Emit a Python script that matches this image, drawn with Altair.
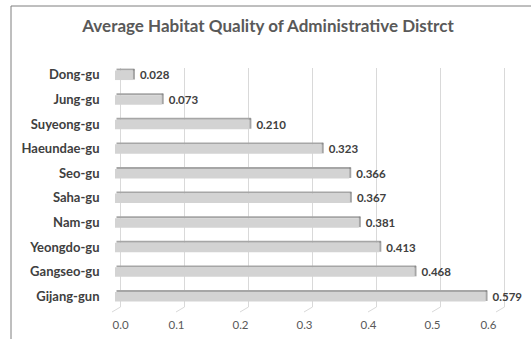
import altair as alt
import pandas as pd

districts = ["Dong-gu", "Jung-gu", "Suyeong-gu", "Haeundae-gu", "Seo-gu",
             "Saha-gu", "Nam-gu", "Yeongdo-gu", "Gangseo-gu", "Gijang-gun"]
values = [0.028, 0.073, 0.210, 0.323, 0.366, 0.367, 0.381, 0.413, 0.468, 0.579]
ticks = [0.0, 0.1, 0.2, 0.3, 0.4, 0.5, 0.6]
title_text = "Average Habitat Quality of Administrative Distrct"

df = pd.DataFrame({"district": districts, "value": values})
tdf = pd.DataFrame({"t": ticks})
FONT = "Lato"

xs = alt.Scale(domain=[0, 0.6], nice=False, zero=True)
ys = alt.Scale(domain=districts, paddingInner=0, paddingOuter=0)

x_axis = alt.Axis(values=ticks, format=".1f", grid=False, ticks=False, domain=False,
                  labelOffset=-3, labelPadding=10, labelFont=FONT, labelFontSize=11.5,
                  labelColor="#595959", title=None)
y_axis = alt.Axis(ticks=False, domain=False, grid=False, labelPadding=16,
                  labelFont=FONT, labelFontSize=13, labelFontWeight="bold",
                  labelColor="#404040", title=None)

grid = alt.Chart(tdf).mark_rule(color="#d9d9d9", strokeWidth=1, xOffset=5.5).encode(
    x=alt.X("t:Q", scale=xs, axis=x_axis),
    y=alt.value(5), y2=alt.value(244))
diag = alt.Chart(tdf).mark_rule(color="#d9d9d9", strokeWidth=1, xOffset=5.5, x2Offset=-3).encode(
    x=alt.X("t:Q", scale=xs), x2="t:Q",
    y=alt.value(244), y2=alt.value(249))

top_face = alt.Chart(df).mark_bar(color="#a6a6a6", size=2, yOffset=-5.7, xOffset=1.5, x2Offset=1).encode(
    y=alt.Y("district:N", scale=ys, sort=districts, axis=y_axis),
    x=alt.X("value:Q", scale=xs))
front = alt.Chart(df).mark_bar(color="#d3d3d3", size=9.5).encode(
    y=alt.Y("district:N", scale=ys, sort=districts),
    x=alt.X("value:Q", scale=xs))
side = alt.Chart(df).mark_tick(color="#7f7f7f", thickness=2, size=10.5, xOffset=1, yOffset=-1).encode(
    y=alt.Y("district:N", scale=ys, sort=districts),
    x=alt.X("value:Q", scale=xs))
labels = alt.Chart(df).mark_text(align="left", baseline="middle", dx=7, dy=1,
                                 font=FONT, fontSize=11.5, fontWeight="bold", color="#404040").encode(
    y=alt.Y("district:N", scale=ys, sort=districts),
    x=alt.X("value:Q", scale=xs),
    text=alt.Text("value:Q", format=".3f"))

title = alt.Chart(pd.DataFrame({"t": [title_text]})).mark_text(
    font=FONT, fontSize=17, fontWeight="bold", color="#595959",
    align="center", baseline="middle").encode(
    text="t:N", x=alt.value(153), y=alt.value(-36))

frame_left = alt.Chart(tdf.head(1)).mark_rule(color="#7f7f7f", strokeWidth=1).encode(
    x=alt.value(-104), y=alt.value(-57), y2=alt.value(300))
frame_top = alt.Chart(tdf.head(1)).mark_rule(color="#7f7f7f", strokeWidth=1).encode(
    x=alt.value(-104), x2=alt.value(430), y=alt.value(-57))

chart = alt.layer(frame_left, frame_top, grid, diag, top_face, front, side, labels, title).properties(
    width=384, height=246,
    autosize=alt.AutoSizeParams(type="none"),
    padding={"left": 115, "top": 63, "right": 32, "bottom": 30},
    background="white",
).configure_view(stroke=None)

chart.save("out.html", embed_options={"renderer": "svg", "actions": False})
